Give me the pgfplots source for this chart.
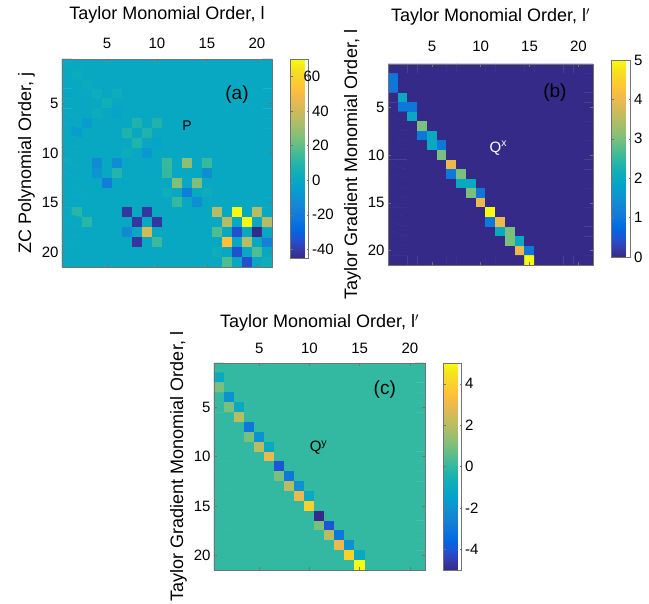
\documentclass[border=0pt]{standalone}
\usepackage{fontspec}
\setmainfont{Liberation Sans}
\usepackage{pgfplots}
\pgfplotsset{compat=1.18}
\pgfplotsset{
 colormap={parula}{
  rgb=(0.2081,0.1663,0.5292) rgb=(0.2081,0.2386,0.6771) rgb=(0.1253,0.3242,0.8303)
  rgb=(0.0060,0.4086,0.8828) rgb=(0.0498,0.4586,0.8641) rgb=(0.0779,0.5040,0.8384)
  rgb=(0.0641,0.5570,0.8240) rgb=(0.0265,0.6137,0.8135) rgb=(0.0228,0.6535,0.7768)
  rgb=(0.0590,0.6838,0.7254) rgb=(0.1453,0.7098,0.6646) rgb=(0.2586,0.7317,0.5954)
  rgb=(0.3953,0.7459,0.5244) rgb=(0.5300,0.7491,0.4661) rgb=(0.6473,0.7456,0.4188)
  rgb=(0.7525,0.7384,0.3768) rgb=(0.8507,0.7299,0.3360) rgb=(0.9450,0.7261,0.2886)
  rgb=(0.9990,0.7653,0.2164) rgb=(0.9789,0.8271,0.1633) rgb=(0.9589,0.8949,0.1132)
  rgb=(0.9763,0.9831,0.0538)},
 matax/.style={
  scale only axis, anchor=south west,
  xmin=0.5, xmax=21.5, ymin=0.5, ymax=21.5,
  y dir=reverse, enlargelimits=false,
  xtick={5,10,15,20}, ytick={5,10,15,20},
  xticklabel pos=upper,
  tick align=inside, major tick length=3pt,
  axis line style={draw=black!55, line width=0.5pt},
  tick style={draw=black!55, line width=0.5pt},
  colormap name=parula,
  label style={font=\fontsize{18}{21}\selectfont},
  tick label style={font=\fontsize{15}{17}\selectfont},
  /pgf/number format/assume math mode=true,
  axis on top,
  colorbar,
 },
 xlab/.style={xlabel style={at={(axis description cs:0.5,1)}, anchor=center, yshift=#1}},
 cbstyle/.style={at={(parent axis.north east)}, anchor=north west, xshift=10pt,
  width=18pt, scale only axis, tick align=inside, major tick length=2pt,
  tick style={draw=black!55}, axis line style={draw=black!55},
  yticklabel style={font=\fontsize{15}{17}\selectfont, text=black},
  /pgf/number format/assume math mode=true},
 /pgfplots/table/mtab/.style={header=false, row sep=\\, x expr={mod(\coordindex,21)+1},
  y expr={floor(\coordindex/21)+1}, meta index=0},
}
\begin{document}
\begin{tikzpicture}
\useasboundingbox (0,0) rectangle (649pt,604pt);
% ---------------- (a) P ----------------
\begin{axis}[matax, at={(62pt,337pt)}, width=210pt, height=208pt,
  point meta min=-45, point meta max=70,
  xticklabel shift=7pt, xlab=44pt,
  xlabel={Taylor Monomial Order, l}, ylabel={ZC Polynomial Order, j},
  colorbar style={cbstyle, height=199pt,
    ytick={-40,-20,0,20,40}, extra y ticks={60}, extra y tick labels={\phantom{0}}}]
\addplot[matrix plot*, mesh/cols=21, point meta=explicit] table[mtab] {
1\\ 0\\ 0\\ 0\\ 0\\  0\\ 0\\ 0\\ 0\\ 0\\  0\\ 0\\ 0\\ 0\\ 0\\  0\\ 0\\ 0\\ 0\\ 0\\  0\\
0\\ 2\\ 0\\ 0\\ 0\\  0\\ 0\\ 0\\ 0\\ 0\\  0\\ 0\\ 0\\ 0\\ 0\\  0\\ 0\\ 0\\ 0\\ 0\\  0\\
0\\ 0\\ 2\\ 0\\ 0\\  0\\ 0\\ 0\\ 0\\ 0\\  0\\ 0\\ 0\\ 0\\ 0\\  0\\ 0\\ 0\\ 0\\ 0\\  0\\
-1.732\\ 0\\ 0\\ 3.464\\ 0\\  3.464\\ 0\\ 0\\ 0\\ 0\\  0\\ 0\\ 0\\ 0\\ 0\\  0\\ 0\\ 0\\ 0\\ 0\\  0\\
0\\ 0\\ 0\\ 0\\ 4.899\\  0\\ 0\\ 0\\ 0\\ 0\\  0\\ 0\\ 0\\ 0\\ 0\\  0\\ 0\\ 0\\ 0\\ 0\\  0\\
0\\ 0\\ 0\\ 2.449\\ 0\\  -2.449\\ 0\\ 0\\ 0\\ 0\\  0\\ 0\\ 0\\ 0\\ 0\\  0\\ 0\\ 0\\ 0\\ 0\\  0\\
0\\ 0\\ -5.657\\ 0\\ 0\\  0\\ 0\\ 8.485\\ 0\\ 8.485\\  0\\ 0\\ 0\\ 0\\ 0\\  0\\ 0\\ 0\\ 0\\ 0\\  0\\
0\\ -5.657\\ 0\\ 0\\ 0\\  0\\ 8.485\\ 0\\ 8.485\\ 0\\  0\\ 0\\ 0\\ 0\\ 0\\  0\\ 0\\ 0\\ 0\\ 0\\  0\\
0\\ 0\\ 0\\ 0\\ 0\\  0\\ 0\\ 8.485\\ 0\\ -2.828\\  0\\ 0\\ 0\\ 0\\ 0\\  0\\ 0\\ 0\\ 0\\ 0\\  0\\
0\\ 0\\ 0\\ 0\\ 0\\  0\\ 2.828\\ 0\\ -8.485\\ 0\\  0\\ 0\\ 0\\ 0\\ 0\\  0\\ 0\\ 0\\ 0\\ 0\\  0\\
2.236\\ 0\\ 0\\ -13.416\\ 0\\  -13.416\\ 0\\ 0\\ 0\\ 0\\  13.416\\ 0\\ 26.833\\ 0\\ 13.416\\  0\\ 0\\ 0\\ 0\\ 0\\  0\\
0\\ 0\\ 0\\ -9.487\\ 0\\  9.487\\ 0\\ 0\\ 0\\ 0\\  12.649\\ 0\\ 0\\ 0\\ -12.649\\  0\\ 0\\ 0\\ 0\\ 0\\  0\\
0\\ 0\\ 0\\ 0\\ -18.974\\  0\\ 0\\ 0\\ 0\\ 0\\  0\\ 25.298\\ 0\\ 25.298\\ 0\\  0\\ 0\\ 0\\ 0\\ 0\\  0\\
0\\ 0\\ 0\\ 0\\ 0\\  0\\ 0\\ 0\\ 0\\ 0\\  3.162\\ 0\\ -18.974\\ 0\\ 3.162\\  0\\ 0\\ 0\\ 0\\ 0\\  0\\
0\\ 0\\ 0\\ 0\\ 0\\  0\\ 0\\ 0\\ 0\\ 0\\  0\\ 12.649\\ 0\\ -12.649\\ 0\\  0\\ 0\\ 0\\ 0\\ 0\\  0\\
0\\ 10.392\\ 0\\ 0\\ 0\\  0\\ -41.569\\ 0\\ -41.569\\ 0\\  0\\ 0\\ 0\\ 0\\ 0\\  34.641\\ 0\\ 69.282\\ 0\\ 34.641\\  0\\
0\\ 0\\ 10.392\\ 0\\ 0\\  0\\ 0\\ -41.569\\ 0\\ -41.569\\  0\\ 0\\ 0\\ 0\\ 0\\  0\\ 34.641\\ 0\\ 69.282\\ 0\\  34.641\\
0\\ 0\\ 0\\ 0\\ 0\\  0\\ -13.856\\ 0\\ 41.569\\ 0\\  0\\ 0\\ 0\\ 0\\ 0\\  17.321\\ 0\\ -34.641\\ 0\\ -51.962\\  0\\
0\\ 0\\ 0\\ 0\\ 0\\  0\\ 0\\ -41.569\\ 0\\ 13.856\\  0\\ 0\\ 0\\ 0\\ 0\\  0\\ 51.962\\ 0\\ 34.641\\ 0\\  -17.321\\
0\\ 0\\ 0\\ 0\\ 0\\  0\\ 0\\ 0\\ 0\\ 0\\  0\\ 0\\ 0\\ 0\\ 0\\  3.464\\ 0\\ -34.641\\ 0\\ 17.321\\  0\\
0\\ 0\\ 0\\ 0\\ 0\\  0\\ 0\\ 0\\ 0\\ 0\\  0\\ 0\\ 0\\ 0\\ 0\\  0\\ 17.321\\ 0\\ -34.641\\ 0\\  3.464\\
};
\node[font=\fontsize{19}{21}\selectfont] at (axis cs:18,4.1) {(a)};
\node[font=\fontsize{14}{16}\selectfont] at (axis cs:13,7.2) {P};
\end{axis}
% ---------------- (b) Qx ----------------
\begin{axis}[matax, at={(388pt,339pt)}, width=205pt, height=201pt,
  point meta min=0, point meta max=5,
  xticklabel shift=9pt, xlab=47pt,
  xlabel={Taylor Monomial Order, l$'$}, ylabel={Taylor Gradient Monomial Order, l},
  colorbar style={cbstyle, yshift=4pt, height=197pt, width=19pt, ytick={0,1,2,3,4,5}}]
\addplot[matrix plot*, mesh/cols=21, point meta=explicit] table[mtab] {
0\\ 0\\ 0\\ 0\\ 0\\  0\\ 0\\ 0\\ 0\\ 0\\  0\\ 0\\ 0\\ 0\\ 0\\  0\\ 0\\ 0\\ 0\\ 0\\  0\\
1\\ 0\\ 0\\ 0\\ 0\\  0\\ 0\\ 0\\ 0\\ 0\\  0\\ 0\\ 0\\ 0\\ 0\\  0\\ 0\\ 0\\ 0\\ 0\\  0\\
1\\ 0\\ 0\\ 0\\ 0\\  0\\ 0\\ 0\\ 0\\ 0\\  0\\ 0\\ 0\\ 0\\ 0\\  0\\ 0\\ 0\\ 0\\ 0\\  0\\
0\\ 2\\ 0\\ 0\\ 0\\  0\\ 0\\ 0\\ 0\\ 0\\  0\\ 0\\ 0\\ 0\\ 0\\  0\\ 0\\ 0\\ 0\\ 0\\  0\\
0\\ 1\\ 1\\ 0\\ 0\\  0\\ 0\\ 0\\ 0\\ 0\\  0\\ 0\\ 0\\ 0\\ 0\\  0\\ 0\\ 0\\ 0\\ 0\\  0\\
0\\ 0\\ 2\\ 0\\ 0\\  0\\ 0\\ 0\\ 0\\ 0\\  0\\ 0\\ 0\\ 0\\ 0\\  0\\ 0\\ 0\\ 0\\ 0\\  0\\
0\\ 0\\ 0\\ 3\\ 0\\  0\\ 0\\ 0\\ 0\\ 0\\  0\\ 0\\ 0\\ 0\\ 0\\  0\\ 0\\ 0\\ 0\\ 0\\  0\\
0\\ 0\\ 0\\ 1\\ 2\\  0\\ 0\\ 0\\ 0\\ 0\\  0\\ 0\\ 0\\ 0\\ 0\\  0\\ 0\\ 0\\ 0\\ 0\\  0\\
0\\ 0\\ 0\\ 0\\ 2\\  1\\ 0\\ 0\\ 0\\ 0\\  0\\ 0\\ 0\\ 0\\ 0\\  0\\ 0\\ 0\\ 0\\ 0\\  0\\
0\\ 0\\ 0\\ 0\\ 0\\  3\\ 0\\ 0\\ 0\\ 0\\  0\\ 0\\ 0\\ 0\\ 0\\  0\\ 0\\ 0\\ 0\\ 0\\  0\\
0\\ 0\\ 0\\ 0\\ 0\\  0\\ 4\\ 0\\ 0\\ 0\\  0\\ 0\\ 0\\ 0\\ 0\\  0\\ 0\\ 0\\ 0\\ 0\\  0\\
0\\ 0\\ 0\\ 0\\ 0\\  0\\ 1\\ 3\\ 0\\ 0\\  0\\ 0\\ 0\\ 0\\ 0\\  0\\ 0\\ 0\\ 0\\ 0\\  0\\
0\\ 0\\ 0\\ 0\\ 0\\  0\\ 0\\ 2\\ 2\\ 0\\  0\\ 0\\ 0\\ 0\\ 0\\  0\\ 0\\ 0\\ 0\\ 0\\  0\\
0\\ 0\\ 0\\ 0\\ 0\\  0\\ 0\\ 0\\ 3\\ 1\\  0\\ 0\\ 0\\ 0\\ 0\\  0\\ 0\\ 0\\ 0\\ 0\\  0\\
0\\ 0\\ 0\\ 0\\ 0\\  0\\ 0\\ 0\\ 0\\ 4\\  0\\ 0\\ 0\\ 0\\ 0\\  0\\ 0\\ 0\\ 0\\ 0\\  0\\
0\\ 0\\ 0\\ 0\\ 0\\  0\\ 0\\ 0\\ 0\\ 0\\  5\\ 0\\ 0\\ 0\\ 0\\  0\\ 0\\ 0\\ 0\\ 0\\  0\\
0\\ 0\\ 0\\ 0\\ 0\\  0\\ 0\\ 0\\ 0\\ 0\\  1\\ 4\\ 0\\ 0\\ 0\\  0\\ 0\\ 0\\ 0\\ 0\\  0\\
0\\ 0\\ 0\\ 0\\ 0\\  0\\ 0\\ 0\\ 0\\ 0\\  0\\ 2\\ 3\\ 0\\ 0\\  0\\ 0\\ 0\\ 0\\ 0\\  0\\
0\\ 0\\ 0\\ 0\\ 0\\  0\\ 0\\ 0\\ 0\\ 0\\  0\\ 0\\ 3\\ 2\\ 0\\  0\\ 0\\ 0\\ 0\\ 0\\  0\\
0\\ 0\\ 0\\ 0\\ 0\\  0\\ 0\\ 0\\ 0\\ 0\\  0\\ 0\\ 0\\ 4\\ 1\\  0\\ 0\\ 0\\ 0\\ 0\\  0\\
0\\ 0\\ 0\\ 0\\ 0\\  0\\ 0\\ 0\\ 0\\ 0\\  0\\ 0\\ 0\\ 0\\ 5\\  0\\ 0\\ 0\\ 0\\ 0\\  0\\
};
\node[font=\fontsize{19}{21}\selectfont] at (axis cs:17.6,3.5) {(b)};
\node[white, font=\fontsize{15}{17}\selectfont] at (axis cs:11.8,9.3) {Q\textsuperscript{x}};
\end{axis}
% ---------------- (c) Qy ----------------
\begin{axis}[matax, at={(214pt,34pt)}, width=211pt, height=207pt,
  point meta min=-5, point meta max=5,
  xticklabel shift=6pt, xlab=40pt,
  xlabel={Taylor Monomial Order, l$'$}, ylabel={Taylor Gradient Monomial Order, l},
  colorbar style={cbstyle, height=207pt, ytick={-4,-2,0,2,4}}]
\addplot[matrix plot*, mesh/cols=21, point meta=explicit] table[mtab] {
0\\ 0\\ 0\\ 0\\ 0\\  0\\ 0\\ 0\\ 0\\ 0\\  0\\ 0\\ 0\\ 0\\ 0\\  0\\ 0\\ 0\\ 0\\ 0\\  0\\
-1\\ 0\\ 0\\ 0\\ 0\\  0\\ 0\\ 0\\ 0\\ 0\\  0\\ 0\\ 0\\ 0\\ 0\\  0\\ 0\\ 0\\ 0\\ 0\\  0\\
1\\ 0\\ 0\\ 0\\ 0\\  0\\ 0\\ 0\\ 0\\ 0\\  0\\ 0\\ 0\\ 0\\ 0\\  0\\ 0\\ 0\\ 0\\ 0\\  0\\
0\\ -2\\ 0\\ 0\\ 0\\  0\\ 0\\ 0\\ 0\\ 0\\  0\\ 0\\ 0\\ 0\\ 0\\  0\\ 0\\ 0\\ 0\\ 0\\  0\\
0\\ 1\\ -1\\ 0\\ 0\\  0\\ 0\\ 0\\ 0\\ 0\\  0\\ 0\\ 0\\ 0\\ 0\\  0\\ 0\\ 0\\ 0\\ 0\\  0\\
0\\ 0\\ 2\\ 0\\ 0\\  0\\ 0\\ 0\\ 0\\ 0\\  0\\ 0\\ 0\\ 0\\ 0\\  0\\ 0\\ 0\\ 0\\ 0\\  0\\
0\\ 0\\ 0\\ -3\\ 0\\  0\\ 0\\ 0\\ 0\\ 0\\  0\\ 0\\ 0\\ 0\\ 0\\  0\\ 0\\ 0\\ 0\\ 0\\  0\\
0\\ 0\\ 0\\ 1\\ -2\\  0\\ 0\\ 0\\ 0\\ 0\\  0\\ 0\\ 0\\ 0\\ 0\\  0\\ 0\\ 0\\ 0\\ 0\\  0\\
0\\ 0\\ 0\\ 0\\ 2\\  -1\\ 0\\ 0\\ 0\\ 0\\  0\\ 0\\ 0\\ 0\\ 0\\  0\\ 0\\ 0\\ 0\\ 0\\  0\\
0\\ 0\\ 0\\ 0\\ 0\\  3\\ 0\\ 0\\ 0\\ 0\\  0\\ 0\\ 0\\ 0\\ 0\\  0\\ 0\\ 0\\ 0\\ 0\\  0\\
0\\ 0\\ 0\\ 0\\ 0\\  0\\ -4\\ 0\\ 0\\ 0\\  0\\ 0\\ 0\\ 0\\ 0\\  0\\ 0\\ 0\\ 0\\ 0\\  0\\
0\\ 0\\ 0\\ 0\\ 0\\  0\\ 1\\ -3\\ 0\\ 0\\  0\\ 0\\ 0\\ 0\\ 0\\  0\\ 0\\ 0\\ 0\\ 0\\  0\\
0\\ 0\\ 0\\ 0\\ 0\\  0\\ 0\\ 2\\ -2\\ 0\\  0\\ 0\\ 0\\ 0\\ 0\\  0\\ 0\\ 0\\ 0\\ 0\\  0\\
0\\ 0\\ 0\\ 0\\ 0\\  0\\ 0\\ 0\\ 3\\ -1\\  0\\ 0\\ 0\\ 0\\ 0\\  0\\ 0\\ 0\\ 0\\ 0\\  0\\
0\\ 0\\ 0\\ 0\\ 0\\  0\\ 0\\ 0\\ 0\\ 4\\  0\\ 0\\ 0\\ 0\\ 0\\  0\\ 0\\ 0\\ 0\\ 0\\  0\\
0\\ 0\\ 0\\ 0\\ 0\\  0\\ 0\\ 0\\ 0\\ 0\\  -5\\ 0\\ 0\\ 0\\ 0\\  0\\ 0\\ 0\\ 0\\ 0\\  0\\
0\\ 0\\ 0\\ 0\\ 0\\  0\\ 0\\ 0\\ 0\\ 0\\  1\\ -4\\ 0\\ 0\\ 0\\  0\\ 0\\ 0\\ 0\\ 0\\  0\\
0\\ 0\\ 0\\ 0\\ 0\\  0\\ 0\\ 0\\ 0\\ 0\\  0\\ 2\\ -3\\ 0\\ 0\\  0\\ 0\\ 0\\ 0\\ 0\\  0\\
0\\ 0\\ 0\\ 0\\ 0\\  0\\ 0\\ 0\\ 0\\ 0\\  0\\ 0\\ 3\\ -2\\ 0\\  0\\ 0\\ 0\\ 0\\ 0\\  0\\
0\\ 0\\ 0\\ 0\\ 0\\  0\\ 0\\ 0\\ 0\\ 0\\  0\\ 0\\ 0\\ 4\\ -1\\  0\\ 0\\ 0\\ 0\\ 0\\  0\\
0\\ 0\\ 0\\ 0\\ 0\\  0\\ 0\\ 0\\ 0\\ 0\\  0\\ 0\\ 0\\ 0\\ 5\\  0\\ 0\\ 0\\ 0\\ 0\\  0\\
};
\node[font=\fontsize{19}{21}\selectfont] at (axis cs:17.5,3.2) {(c)};
\node[font=\fontsize{15}{17}\selectfont] at (axis cs:10.9,9.1) {Q\textsuperscript{y}};
\end{axis}
% colorbar (a): label of its top tick, 60
\node[anchor=west, text=black, font=\fontsize{15}{17}\selectfont] at (300pt,527.7pt) {60};
\end{tikzpicture}
\end{document}
